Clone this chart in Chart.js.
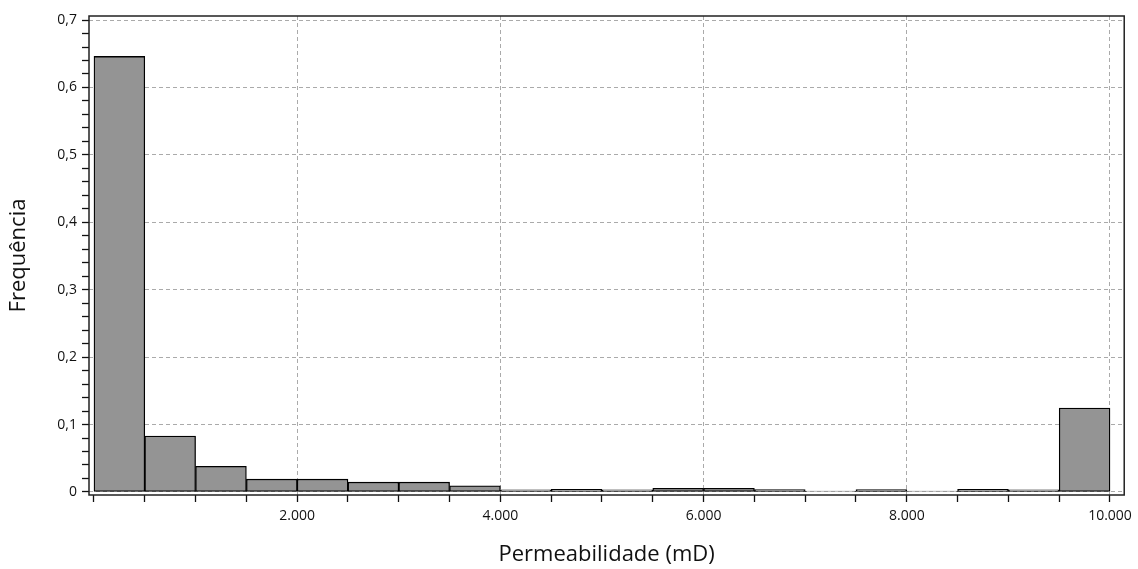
<!DOCTYPE html>
<html>
<head>
<meta charset="utf-8">
<script src="https://cdn.jsdelivr.net/npm/chart.js@4.4.1/dist/chart.umd.min.js"></script>
<style>
  html, body { margin: 0; padding: 0; background: #ffffff; }
  #wrap { width: 1138px; height: 569px; }
</style>
</head>
<body>
<div id="wrap"><canvas id="c" width="1138" height="569"></canvas></div>
<script>
// ---- data (histogram, bins of 500 mD) ----
const binCenters = [250, 750, 1250, 1750, 2250, 2750, 3250, 3750, 4250, 4750,
                    5250, 5750, 6250, 6750, 7250, 7750, 8250, 8750, 9250, 9750];
const frequencies = [0.646, 0.083, 0.038, 0.019, 0.019, 0.0145, 0.0145, 0.009, 0.003, 0.004,
                     0.003, 0.0055, 0.0055, 0.0035, 0.0012, 0.0035, 0.0012, 0.004, 0.003, 0.1245];
const xMajorTicks = [2000, 4000, 6000, 8000, 10000];
const yMajorTicks = [0, 0.1, 0.2, 0.3, 0.4, 0.5, 0.6, 0.7];
const xMinorStep = 500;
const yMinorStep = 0.02;
const xTitle = 'Permeabilidade (mD)';
const yTitle = 'Frequência';

const isMajor = (v, list) => list.some(m => Math.abs(m - v) < 1e-9);
const fmtX = v => Math.round(v).toString().replace(/\B(?=(\d{3})+(?!\d))/g, '.');
const fmtY = v => v === 0 ? '0' : v.toFixed(1).replace('.', ',');

const framePlugin = {
  id: 'frame',
  afterDraw(chart) {
    const a = chart.chartArea, ctx = chart.ctx;
    ctx.save();
    ctx.strokeStyle = '#222';
    ctx.lineWidth = 1.5;
    ctx.strokeRect(a.left, a.top, a.right - a.left, a.bottom - a.top);
    ctx.restore();
  }
};

const FONT = '"Open Sans", "DejaVu Sans", sans-serif';

new Chart(document.getElementById('c'), {
  type: 'bar',
  data: {
    datasets: [{
      data: binCenters.map((x, i) => ({ x: x, y: frequencies[i] })),
      backgroundColor: '#949494',
      borderColor: '#000000',
      borderWidth: 1.3,
      borderSkipped: false,
      barPercentage: 1.0,
      categoryPercentage: 1.0
    }]
  },
  plugins: [framePlugin],
  options: {
    responsive: false,
    animation: false,
    events: [],
    layout: { padding: { left: 0, right: 11, top: 16, bottom: 0 } },
    plugins: { legend: { display: false }, tooltip: { enabled: false } },
    scales: {
      x: {
        type: 'linear',
        offset: false,
        min: -49,
        max: 10140,
        afterBuildTicks(scale) {
          const t = [];
          for (let v = 0; v <= 10000; v += xMinorStep) t.push({ value: v });
          scale.ticks = t;
        },
        afterFit(scale) { scale.height = 569 - 495; },
        grid: {
          offset: false,
          color: c => (c.tick && isMajor(c.tick.value, xMajorTicks)) ? '#aaaaaa' : 'rgba(0,0,0,0)',
          lineWidth: 1,
          tickColor: '#111',
          tickWidth: 1.3,
          tickLength: 7,
          drawTicks: true
        },
        border: { display: false, dash: [4, 3] },
        ticks: {
          autoSkip: false,
          maxRotation: 0,
          padding: 6,
          color: '#111',
          font: { family: FONT, size: 14 },
          callback: v => isMajor(v, xMajorTicks) ? fmtX(v) : ''
        },
        title: {
          display: true,
          text: xTitle,
          color: '#111',
          font: { family: FONT, size: 22 },
          padding: { top: 0, bottom: 1 }
        }
      },
      y: {
        type: 'linear',
        min: -0.0045,
        max: 0.706,
        afterBuildTicks(scale) {
          const t = [];
          for (let i = 0; i <= 35; i++) t.push({ value: Math.round(i * yMinorStep * 1000) / 1000 });
          scale.ticks = t;
        },
        afterFit(scale) { scale.width = 89; },
        grid: {
          color: c => (c.tick && isMajor(c.tick.value, yMajorTicks)) ? '#aaaaaa' : 'rgba(0,0,0,0)',
          lineWidth: 1,
          tickColor: '#111',
          tickWidth: 1.3,
          tickLength: 7,
          drawTicks: true
        },
        border: { display: false, dash: [4, 3] },
        ticks: {
          autoSkip: false,
          padding: 5,
          color: '#111',
          font: { family: FONT, size: 14 },
          callback: v => isMajor(v, yMajorTicks) ? fmtY(v) : ''
        },
        title: {
          display: true,
          text: yTitle,
          color: '#111',
          font: { family: FONT, size: 22 },
          padding: { top: 6, bottom: 0 }
        }
      }
    }
  }
});
</script>
</body>
</html>
